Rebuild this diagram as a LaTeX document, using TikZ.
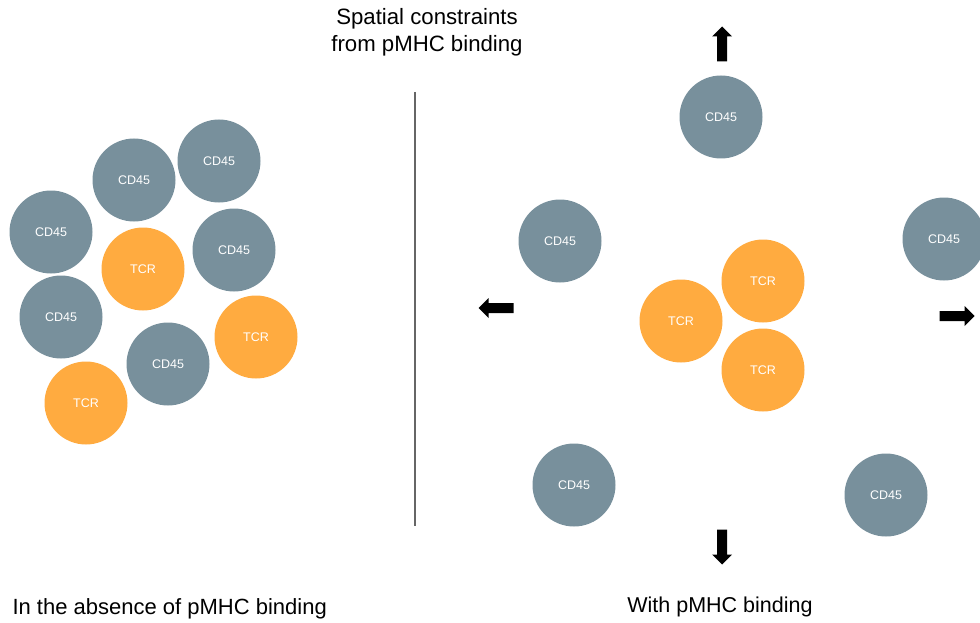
\documentclass[tikz,border=0pt]{standalone}
\usepackage{fontspec}
\setmainfont{Liberation Sans}
\definecolor{cdgrey}{HTML}{78909C}
\definecolor{tcrorange}{HTML}{FFAB40}
\definecolor{divgrey}{HTML}{666666}
\tikzset{
  cell/.style={circle, minimum size=83pt, inner sep=0pt, text=white,
    font=\fontsize{12.5}{14}\selectfont},
  cd/.style={cell, fill=cdgrey},
  tcr/.style={cell, fill=tcrorange},
  caption/.style={font=\fontsize{21.5}{27}\selectfont, align=center},
  blockarrow/.pic={\fill[black] (-17.5,-5) -- (7.5,-5) -- (7.5,-10) -- (17.5,0)
    -- (7.5,10) -- (7.5,5) -- (-17.5,5) -- cycle;}
}
\begin{document}
\begin{tikzpicture}[x=1pt, y=-1pt]
    \useasboundingbox (0,0) rectangle (980,623);

    % Sin union pMHC
    \node[cd]  (cdA) at (134,180) {CD45};
    \node[cd]  (cdB) at (219,161) {CD45};
    \node[cd]  (cdC) at (51,232)  {CD45};
    \node[tcr] (tcrA) at (143,269) {TCR};
    \node[cd]  (cdD) at (234,250) {CD45};
    \node[cd]  (cdE) at (61,317)  {CD45};
    \node[tcr] (tcrB) at (256,337) {TCR};
    \node[cd]  (cdF) at (168,364) {CD45};
    \node[tcr] (tcrC) at (86,403)  {TCR};

    % Linea divisoria
    \draw[divgrey, line width=2pt] (415,92) -- (415,526);
    \node[caption, font=\fontsize{22.2}{27}\selectfont] (title) at (427,32) {Spatial constraints\\from pMHC binding};

    % Con union pMHC
    \node[cd]  (cdG) at (721,117) {CD45};
    \node[cd]  (cdH) at (560,241) {CD45};
    \node[cd]  (cdI) at (944,239) {CD45};
    \node[tcr] (tcrD) at (763,281) {TCR};
    \node[tcr] (tcrE) at (681,321) {TCR};
    \node[tcr] (tcrF) at (763,370) {TCR};
    \node[cd]  (cdJ) at (574,485) {CD45};
    \node[cd]  (cdK) at (886,495) {CD45};

    % Flechas
    \pic[rotate=90]  at (722,44) {blockarrow};
    \pic[rotate=-90] at (722,547) {blockarrow};
    \pic[rotate=180] at (496,308) {blockarrow};
    \pic at (957,316) {blockarrow};

    % Etiquetas
    \node[caption, anchor=west, font=\fontsize{22}{27}\selectfont] (left) at (9,609) {In the absence of pMHC binding};
    \node[caption] (right) at (720,607) {With pMHC binding};
\end{tikzpicture}
\end{document}
